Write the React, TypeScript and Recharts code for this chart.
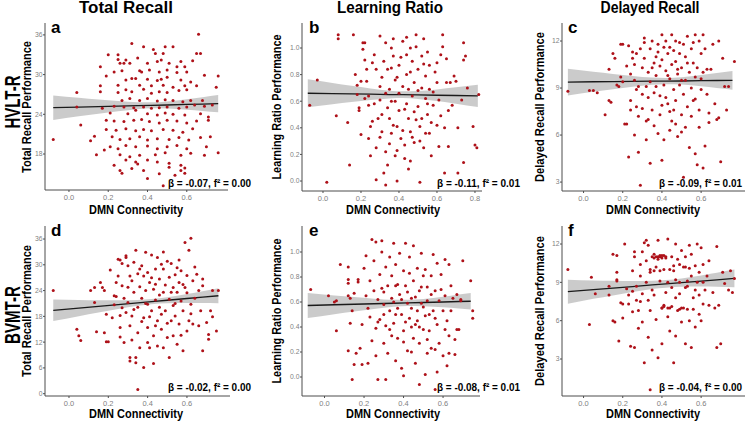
import { Area, ComposedChart, Line, Scatter, XAxis, YAxis } from 'recharts';

type Pair = [number, number];
// x, lower CI, fitted value, upper CI
type FitRow = [number, number, number, number];

// ---- HVLT-R total recall (panel a)
const hvltRecallPoints: Pair[] = [
  [0.66, 36.1], [0.32, 34.7], [0.38, 34.2], [0.43, 33.8], [0.49, 34.2], [0.53, 34.2], [0.25, 33.0], [0.2, 33.0],
  [0.44, 33.2], [0.48, 33.2], [0.65, 33.2], [0.67, 33.2], [0.29, 32.2], [0.25, 32.3], [0.35, 32.5], [0.57, 32.0],
  [0.63, 32.1], [0.16, 31.2], [0.26, 31.7], [0.28, 31.7], [0.31, 31.7], [0.4, 31.7], [0.45, 32.0], [0.47, 32.2],
  [0.51, 31.7], [0.55, 31.2], [0.59, 31.2], [0.23, 30.4], [0.27, 30.6], [0.36, 30.6], [0.37, 30.4], [0.41, 30.7],
  [0.46, 30.4], [0.5, 30.7], [0.55, 30.3], [0.6, 30.4], [0.19, 29.8], [0.69, 29.9], [0.76, 29.8], [0.29, 29.2],
  [0.32, 29.4], [0.34, 29.4], [0.4, 29.3], [0.45, 29.1], [0.47, 29.3], [0.5, 29.6], [0.57, 29.2], [0.62, 28.9],
  [0.16, 28.3], [0.25, 28.4], [0.36, 28.4], [0.42, 28.3], [0.48, 28.4], [0.53, 28.1], [0.59, 28.3], [0.65, 28.3],
  [0.16, 27.4], [0.04, 27.3], [0.25, 27.3], [0.29, 27.7], [0.32, 27.4], [0.38, 27.8], [0.42, 27.2], [0.46, 27.4],
  [0.5, 27.3], [0.56, 27.6], [0.6, 27.7], [0.75, 28.1], [0.27, 26.1], [0.31, 26.4], [0.36, 26.1], [0.4, 26.4],
  [0.45, 26.0], [0.49, 26.2], [0.53, 26.1], [0.58, 25.9], [0.62, 26.1], [0.68, 26.1], [0.04, 25.1], [0.17, 24.9],
  [0.23, 25.2], [0.28, 25.1], [0.33, 25.0], [0.38, 25.1], [0.42, 24.9], [0.46, 25.0], [0.5, 25.1], [0.56, 24.9],
  [0.6, 25.1], [0.64, 25.4], [0.69, 25.2], [0.73, 25.4], [0.21, 24.2], [0.3, 24.1], [0.34, 24.6], [0.4, 24.1],
  [0.45, 23.9], [0.49, 24.2], [0.53, 24.0], [0.59, 23.9], [0.67, 24.1], [0.06, 22.4], [0.19, 23.1], [0.23, 23.0],
  [0.28, 22.9], [0.33, 23.1], [0.37, 23.2], [0.41, 22.9], [0.46, 22.7], [0.5, 23.1], [0.55, 23.0], [0.6, 22.7],
  [0.65, 23.0], [0.71, 23.6], [0.71, 23.1], [0.19, 21.7], [0.24, 21.6], [0.29, 21.8], [0.34, 21.5], [0.38, 21.7],
  [0.42, 21.5], [0.48, 21.7], [0.53, 21.6], [0.58, 21.3], [0.63, 21.8], [-0.08, 20.2], [0.11, 20.0], [0.13, 20.7],
  [0.22, 20.6], [0.26, 20.2], [0.31, 20.3], [0.36, 20.6], [0.4, 20.1], [0.45, 20.3], [0.51, 20.2], [0.56, 20.5],
  [0.61, 20.1], [0.67, 20.5], [0.72, 20.6], [0.21, 19.1], [0.25, 18.8], [0.29, 19.3], [0.34, 19.1], [0.4, 19.2],
  [0.45, 18.8], [0.5, 19.1], [0.55, 19.3], [0.6, 18.8], [0.7, 19.1], [0.14, 17.9], [0.18, 18.6], [0.26, 17.9],
  [0.31, 17.6], [0.36, 17.8], [0.44, 17.9], [0.49, 18.2], [0.57, 17.8], [0.62, 18.1], [0.69, 17.8], [0.76, 18.2],
  [0.23, 16.3], [0.29, 17.1], [0.34, 16.8], [0.35, 16.5], [0.4, 17.1], [0.45, 16.8], [0.51, 16.6], [0.57, 16.3],
  [0.26, 15.5], [0.32, 15.8], [0.38, 15.5], [0.51, 16.0], [0.57, 15.5], [0.59, 15.9], [0.46, 15.0], [0.54, 14.8],
  [0.59, 15.1], [0.27, 15.1], [0.4, 14.3], [0.48, 13.2],
];
const hvltRecallFit: FitRow[] = [
  [-0.08, 23.15, 25.0, 26.85], [0.05, 23.71, 25.1, 26.49], [0.15, 24.1, 25.16, 26.22], [0.25, 24.48, 25.24, 26.0],
  [0.35, 24.78, 25.3, 25.82], [0.42, 24.91, 25.36, 25.81], [0.5, 24.87, 25.41, 25.95], [0.6, 24.7, 25.49, 26.28],
  [0.68, 24.51, 25.54, 26.57], [0.76, 24.3, 25.6, 26.9],
];

// ---- HVLT-R learning ratio (panel b)
const hvltRatioPoints: Pair[] = [
  [-0.07, 0.57], [-0.03, 0.76], [0.02, -0.01], [0.07, 0.49], [0.08, 1.1], [0.08, 1.07], [0.13, 0.44], [0.14, 0.12],
  [0.16, 1.1], [0.17, 0.8], [0.18, 0.72], [0.18, 0.65], [0.19, 0.55], [0.19, 0.53], [0.2, 0.35], [0.21, 1.04],
  [0.22, 1.04], [0.21, 0.99], [0.22, 0.91], [0.23, 0.84], [0.23, 0.75], [0.24, 0.64], [0.24, 0.32], [0.25, 0.19],
  [0.25, 0.41], [0.26, 0.89], [0.27, 0.95], [0.28, 0.25], [0.28, 0.01], [0.3, 1.09], [0.3, 0.71], [0.3, 0.61],
  [0.31, 0.78], [0.31, 0.37], [0.32, 0.06], [0.32, 0.9], [0.33, 1.04], [0.33, 0.22], [0.33, -0.03], [0.34, 0.84],
  [0.34, 0.55], [0.35, 0.47], [0.35, 0.69], [0.36, 1.0], [0.36, 0.36], [0.37, 0.94], [0.38, 0.76], [0.38, 0.6],
  [0.38, 0.19], [0.39, 0.0], [0.39, 0.41], [0.4, 0.87], [0.4, 0.66], [0.41, 0.32], [0.42, 1.05], [0.42, 0.71],
  [0.43, 0.54], [0.43, 0.27], [0.44, 0.95], [0.44, 0.8], [0.45, 0.47], [0.45, 0.09], [0.46, 0.37], [0.46, 1.0],
  [0.47, 0.64], [0.47, 0.9], [0.48, 0.29], [0.48, 0.74], [0.49, 0.46], [0.49, 1.1], [0.49, 1.01], [0.5, 0.84],
  [0.5, 0.56], [0.51, -0.01], [0.51, 0.41], [0.52, 0.7], [0.52, 0.94], [0.53, 0.25], [0.53, 1.07], [0.54, 0.79],
  [0.54, 0.62], [0.54, 0.36], [0.55, 0.5], [0.55, 0.97], [0.56, 0.69], [0.56, 0.87], [0.57, 0.19], [0.58, 0.57],
  [0.59, 0.82], [0.6, 0.42], [0.6, 0.74], [0.61, 0.26], [0.61, 0.61], [0.62, 0.95], [0.63, 1.1], [0.63, 1.01],
  [0.64, 0.4], [0.64, 0.06], [0.65, 0.74], [0.65, 0.92], [0.66, 0.26], [0.67, 0.74], [0.68, 0.57], [0.69, 0.79],
  [0.7, 0.75], [0.71, 0.4], [0.71, 0.06], [0.73, 0.61], [0.74, 0.14], [0.74, 1.04], [0.75, 0.94], [0.74, 0.91],
  [0.76, 0.7], [0.79, 0.41], [0.8, 0.27], [0.81, 0.25], [0.82, 0.65], [0.27, 0.58], [0.29, 0.47], [0.31, 0.5],
  [0.33, 0.66], [0.35, 0.28], [0.36, 0.6], [0.37, 0.42], [0.39, 0.78], [0.4, 0.53], [0.41, 0.93], [0.42, 0.38],
  [0.44, 0.58], [0.45, 0.69], [0.46, 0.82], [0.47, 0.33], [0.48, 0.52], [0.5, 0.68], [0.51, 0.3], [0.52, 0.47],
  [0.53, 0.88], [0.55, 0.58], [0.57, 0.44], [0.58, 0.67], [0.6, 0.89], [0.28, 0.84], [0.26, 0.45], [0.24, 0.57],
  [0.22, 0.62], [0.2, 0.75], [0.36, 0.85], [0.43, 0.17], [0.39, 0.23], [0.46, 0.15], [0.34, 0.12], [0.3, 0.33],
  [0.56, 0.36], [0.62, 0.49], [0.66, 0.53], [0.37, 1.07], [0.44, 1.08],
];
const hvltRatioFit: FitRow[] = [
  [-0.08, 0.555, 0.66, 0.765], [0.05, 0.578, 0.657, 0.737], [0.15, 0.595, 0.655, 0.716], [0.25, 0.61, 0.653, 0.696],
  [0.35, 0.621, 0.65, 0.679], [0.42, 0.624, 0.649, 0.674], [0.5, 0.617, 0.647, 0.677], [0.6, 0.601, 0.645, 0.689],
  [0.7, 0.581, 0.643, 0.705], [0.815, 0.556, 0.64, 0.724],
];

// ---- HVLT-R delayed recall (panel c)
const hvltDelayedPoints: Pair[] = [
  [-0.08, 8.8], [0.03, 8.85], [0.05, 8.85], [0.07, 8.7], [0.11, 7.3], [0.13, 10.2], [0.13, 8.2], [0.14, 8.1],
  [0.15, 11.2], [0.16, 10.9], [0.17, 9.2], [0.18, 9.1], [0.19, 11.8], [0.2, 11.8], [0.19, 9.7], [0.2, 9.4],
  [0.21, 6.7], [0.22, 6.7], [0.23, 4.6], [0.23, 11.7], [0.24, 9.9], [0.24, 8.2], [0.24, 7.6], [0.25, 11.3],
  [0.25, 10.9], [0.26, 6.0], [0.26, 9.5], [0.27, 7.8], [0.27, 11.2], [0.28, 9.1], [0.28, 7.2], [0.28, 4.9],
  [0.29, 2.8], [0.3, 10.3], [0.3, 8.6], [0.3, 7.7], [0.31, 12.2], [0.31, 11.9], [0.31, 10.9], [0.32, 5.7],
  [0.32, 6.9], [0.33, 10.0], [0.33, 8.4], [0.34, 9.4], [0.34, 11.5], [0.34, 4.2], [0.35, 12.0], [0.35, 7.6],
  [0.36, 6.6], [0.36, 10.6], [0.37, 9.1], [0.37, 9.8], [0.38, 6.1], [0.38, 11.8], [0.38, 11.3], [0.39, 8.5],
  [0.39, 7.3], [0.4, 12.4], [0.4, 10.8], [0.4, 4.4], [0.41, 5.7], [0.41, 9.2], [0.42, 10.1], [0.42, 12.0],
  [0.43, 8.0], [0.43, 11.2], [0.44, 6.3], [0.44, 11.6], [0.44, 9.6], [0.45, 6.9], [0.45, 12.4], [0.46, 8.9],
  [0.46, 7.6], [0.47, 10.7], [0.47, 12.0], [0.47, 8.2], [0.48, 9.9], [0.48, 5.9], [0.49, 11.2], [0.49, 9.2],
  [0.49, 11.9], [0.5, 7.3], [0.5, 10.3], [0.51, 3.3], [0.51, 8.6], [0.52, 11.0], [0.52, 9.5], [0.52, 6.5],
  [0.53, 12.3], [0.53, 7.8], [0.54, 10.0], [0.54, 5.2], [0.55, 11.5], [0.55, 9.0], [0.55, 7.2], [0.56, 10.6],
  [0.56, 8.2], [0.57, 12.4], [0.57, 9.7], [0.57, 4.8], [0.58, 4.1], [0.59, 12.0], [0.59, 7.6], [0.59, 6.5],
  [0.6, 8.9], [0.6, 11.2], [0.61, 3.9], [0.61, 12.4], [0.61, 10.0], [0.62, 5.3], [0.63, 10.2], [0.64, 7.4],
  [0.64, 6.8], [0.66, 11.8], [0.67, 8.0], [0.68, 7.0], [0.69, 7.1], [0.69, 12.0], [0.7, 4.3], [0.71, 10.9],
  [0.72, 9.1], [0.74, 9.1], [0.73, 7.6], [0.77, 10.7], [0.26, 10.5], [0.29, 11.5], [0.32, 9.1], [0.35, 10.3],
  [0.36, 8.7], [0.37, 11.0], [0.39, 10.4], [0.41, 11.6], [0.42, 8.4], [0.43, 9.8], [0.45, 10.5], [0.46, 11.4],
  [0.48, 10.2], [0.5, 9.5], [0.51, 11.8], [0.53, 10.6], [0.56, 11.9], [0.58, 10.3], [0.6, 9.6], [0.62, 11.5],
  [0.63, 8.6], [0.65, 10.2], [0.44, 7.5], [0.47, 6.7], [0.4, 7.9], [0.33, 7.0], [0.5, 6.2], [0.57, 8.3],
  [0.27, 8.9], [0.22, 10.4],
];
const hvltDelayedFit: FitRow[] = [
  [-0.08, 8.53, 9.38, 10.23], [0.05, 8.76, 9.4, 10.04], [0.15, 8.92, 9.41, 9.9], [0.25, 9.08, 9.42, 9.77],
  [0.35, 9.21, 9.44, 9.67], [0.42, 9.24, 9.44, 9.64], [0.5, 9.22, 9.45, 9.69], [0.6, 9.11, 9.47, 9.83],
  [0.68, 9.0, 9.48, 9.96], [0.76, 8.89, 9.49, 10.09],
];

// ---- BVMT-R total recall (panel d)
const bvmtRecallPoints: Pair[] = [
  [-0.08, 24.0], [0.04, 15.0], [0.05, 13.5], [0.06, 12.4], [0.11, 24.0], [0.13, 24.7], [0.13, 21.2], [0.14, 14.4],
  [0.16, 25.9], [0.17, 24.7], [0.18, 24.0], [0.18, 14.2], [0.19, 12.1], [0.2, 12.1], [0.19, 18.5], [0.21, 28.8],
  [0.22, 17.7], [0.23, 20.7], [0.23, 22.8], [0.24, 22.6], [0.24, 25.9], [0.25, 27.4], [0.25, 31.3], [0.26, 31.1],
  [0.26, 15.4], [0.26, 13.2], [0.27, 25.1], [0.27, 30.3], [0.28, 22.2], [0.28, 11.9], [0.29, 18.9], [0.29, 31.7],
  [0.29, 32.1], [0.3, 21.2], [0.3, 29.8], [0.31, 8.4], [0.31, 7.6], [0.31, 15.8], [0.32, 26.3], [0.32, 18.1],
  [0.33, 23.6], [0.33, 30.6], [0.34, 8.4], [0.34, 7.2], [0.34, 33.4], [0.35, 20.1], [0.35, 1.0], [0.35, 14.2],
  [0.36, 24.9], [0.36, 29.0], [0.36, 10.7], [0.37, 22.2], [0.38, 27.4], [0.38, 6.1], [0.38, 17.7], [0.39, 24.0],
  [0.39, 32.9], [0.4, 15.4], [0.4, 28.2], [0.4, 20.8], [0.41, 25.9], [0.41, 10.7], [0.42, 32.3], [0.42, 19.3],
  [0.43, 7.0], [0.43, 24.3], [0.43, 13.5], [0.44, 29.0], [0.44, 21.8], [0.45, 17.0], [0.45, 31.7], [0.45, 11.1],
  [0.46, 26.7], [0.46, 20.1], [0.47, 30.1], [0.47, 15.0], [0.48, 23.6], [0.48, 10.7], [0.48, 29.0], [0.49, 25.3],
  [0.49, 19.3], [0.5, 13.1], [0.5, 30.8], [0.51, 22.0], [0.51, 27.1], [0.51, 8.4], [0.52, 17.0], [0.52, 30.3],
  [0.53, 20.5], [0.53, 24.7], [0.53, 13.5], [0.54, 27.7], [0.54, 18.1], [0.55, 23.6], [0.55, 11.5], [0.56, 25.9],
  [0.56, 16.2], [0.56, 31.1], [0.57, 21.6], [0.57, 28.6], [0.58, 10.0], [0.58, 19.3], [0.59, 24.7], [0.59, 35.2],
  [0.6, 14.6], [0.6, 23.5], [0.6, 27.5], [0.61, 17.0], [0.61, 33.4], [0.62, 20.8], [0.62, 36.2], [0.63, 26.3],
  [0.63, 16.2], [0.64, 22.2], [0.65, 27.8], [0.66, 15.8], [0.66, 24.0], [0.67, 19.3], [0.68, 25.1], [0.68, 26.7],
  [0.7, 16.6], [0.71, 12.7], [0.71, 13.8], [0.72, 19.3], [0.73, 24.0], [0.68, 10.0], [0.76, 24.0], [0.73, 17.9],
  [0.75, 14.6], [0.27, 20.0], [0.3, 24.8], [0.32, 12.5], [0.33, 19.6], [0.35, 27.9], [0.37, 16.8], [0.39, 21.0],
  [0.41, 17.9], [0.42, 27.0], [0.44, 15.8], [0.46, 23.0], [0.47, 18.5], [0.5, 16.4], [0.52, 23.6], [0.54, 21.0],
  [0.57, 13.6], [0.58, 25.4], [0.62, 18.6], [0.64, 29.5], [0.44, 25.5], [0.37, 29.8], [0.31, 27.4], [0.26, 18.2],
  [0.48, 33.0], [0.4, 11.9], [0.55, 29.3],
];
const bvmtRecallFit: FitRow[] = [
  [-0.08, 16.9, 19.4, 21.9], [0.05, 18.04, 19.93, 21.82], [0.15, 18.89, 20.33, 21.77], [0.25, 19.72, 20.74, 21.76],
  [0.35, 20.45, 21.14, 21.83], [0.42, 20.83, 21.43, 22.03], [0.5, 21.05, 21.75, 22.45], [0.6, 21.11, 22.16, 23.21],
  [0.68, 21.1, 22.48, 23.86], [0.76, 21.05, 22.8, 24.56],
];

// ---- BVMT-R learning ratio (panel e)
const bvmtRatioPoints: Pair[] = [
  [-0.07, 0.7], [0.02, 0.65], [0.05, 0.6], [0.06, 0.61], [0.06, 0.37], [0.08, 0.9], [0.12, 0.88], [0.12, 0.78],
  [0.12, 0.75], [0.12, 0.65], [0.13, 0.63], [0.13, 0.43], [0.12, 0.21], [0.14, -0.02], [0.14, 0.53], [0.15, 0.67],
  [0.15, 0.1], [0.16, 0.19], [0.17, 0.78], [0.17, 0.76], [0.18, 0.23], [0.19, 0.1], [0.19, 0.42], [0.2, 0.87],
  [0.21, 0.65], [0.21, 0.97], [0.22, 0.55], [0.22, 0.11], [0.23, 0.77], [0.23, 0.48], [0.24, 0.29], [0.24, 1.1],
  [0.25, 0.69], [0.25, 0.93], [0.26, 0.39], [0.26, 1.08], [0.26, 0.17], [0.27, -0.02], [0.27, 0.62], [0.28, 0.82],
  [0.28, 0.46], [0.29, 1.0], [0.29, 0.71], [0.29, 1.09], [0.3, 0.27], [0.3, 0.58], [0.31, 0.88], [0.31, 0.41],
  [0.31, -0.02], [0.32, 0.73], [0.32, 0.19], [0.33, 0.96], [0.33, 0.53], [0.34, 0.81], [0.34, 0.33], [0.34, 0.63],
  [0.35, 1.07], [0.35, 0.43], [0.36, 0.9], [0.36, 0.13], [0.36, 0.73], [0.37, 0.55], [0.37, 0.31], [0.38, 0.99],
  [0.38, 0.66], [0.39, 0.5], [0.39, 0.07], [0.4, 0.85], [0.4, 0.37], [0.4, 0.01], [0.41, 1.07], [0.41, 0.73],
  [0.42, 0.59], [0.42, 0.21], [0.43, 0.47], [0.43, 0.83], [0.43, 0.96], [0.44, 0.63], [0.44, 0.55], [0.45, 0.31],
  [0.45, 1.05], [0.45, 0.77], [0.46, 0.42], [0.46, 0.11], [0.47, 0.87], [0.47, 0.53], [0.48, 0.69], [0.48, -0.06],
  [0.48, 0.27], [0.49, 0.99], [0.49, 0.59], [0.5, 0.38], [0.5, 0.81], [0.51, 0.02], [0.51, 0.49], [0.52, 0.19],
  [0.52, 0.72], [0.52, 0.61], [0.53, 0.37], [0.54, 0.23], [0.54, 0.81], [0.55, 0.53], [0.55, 0.98], [0.56, 0.22],
  [0.56, 0.69], [0.57, 0.04], [0.57, 0.42], [0.57, 0.91], [0.58, 0.61], [0.58, 0.27], [0.59, 0.82], [0.6, 0.17],
  [0.6, 0.53], [0.61, 0.94], [0.61, 0.65], [0.62, 0.45], [0.62, 0.09], [0.63, 0.33], [0.63, 0.19], [0.63, 0.9],
  [0.64, 0.53], [0.65, 0.63], [0.66, 0.3], [0.66, 0.18], [0.67, 0.38], [0.67, 0.66], [0.68, 0.38], [0.69, 0.62],
  [0.7, 0.93], [0.69, 0.61], [0.74, 0.77], [0.75, 0.53], [0.75, 0.47], [0.56, -0.1], [0.27, 0.44], [0.3, 0.68],
  [0.33, 0.38], [0.35, 0.6], [0.37, 0.74], [0.39, 0.62], [0.41, 0.44], [0.42, 0.68], [0.44, 0.4], [0.46, 0.64],
  [0.47, 0.45], [0.49, 0.72], [0.5, 0.56], [0.51, 0.86], [0.53, 0.5], [0.54, 0.66], [0.56, 0.47], [0.59, 0.7],
  [0.61, 0.38], [0.64, 0.73], [0.36, 0.5], [0.4, 0.28], [0.44, 0.2], [0.48, 0.4], [0.52, 0.3], [0.3, 0.5],
];
const bvmtRatioFit: FitRow[] = [
  [-0.085, 0.472, 0.572, 0.672], [0.05, 0.503, 0.578, 0.653], [0.15, 0.525, 0.582, 0.64], [0.25, 0.545, 0.586, 0.627],
  [0.35, 0.562, 0.59, 0.618], [0.42, 0.568, 0.593, 0.618], [0.5, 0.567, 0.596, 0.625], [0.6, 0.558, 0.6, 0.642],
  [0.68, 0.548, 0.604, 0.66], [0.74, 0.54, 0.606, 0.672],
];

// ---- BVMT-R delayed recall (panel f)
const bvmtDelayedPoints: Pair[] = [
  [-0.08, 10.0], [0.03, 5.7], [0.04, 9.4], [0.06, 8.1], [0.13, 8.7], [0.13, 8.0], [0.15, 6.0], [0.16, 5.9],
  [0.15, 11.2], [0.17, 11.1], [0.17, 9.8], [0.17, 9.2], [0.17, 9.1], [0.18, 4.4], [0.19, 7.4], [0.2, 7.3],
  [0.2, 6.2], [0.21, 12.0], [0.22, 8.5], [0.23, 7.3], [0.23, 8.0], [0.24, 4.0], [0.25, 6.7], [0.25, 9.9],
  [0.26, 11.4], [0.26, 3.9], [0.26, 11.0], [0.27, 7.6], [0.27, 8.7], [0.28, 5.4], [0.28, 6.8], [0.29, 10.4],
  [0.29, 9.5], [0.3, 8.1], [0.3, 11.4], [0.3, 5.9], [0.31, 12.1], [0.31, 2.7], [0.32, 12.3], [0.32, 9.0],
  [0.32, 10.7], [0.33, 7.6], [0.33, 4.7], [0.34, 9.8], [0.34, 6.8], [0.35, 3.7], [0.35, 11.0], [0.35, 8.4],
  [0.36, 11.2], [0.36, 8.0], [0.37, 6.1], [0.37, 10.2], [0.38, 12.3], [0.38, 11.0], [0.38, 3.1], [0.39, 11.1],
  [0.39, 9.1], [0.4, 7.0], [0.4, 11.1], [0.4, 4.2], [0.41, 10.0], [0.41, 7.2], [0.42, 11.0], [0.42, 8.2],
  [0.43, 12.4], [0.43, 6.3], [0.44, 10.0], [0.44, 5.2], [0.44, 7.0], [0.45, 11.0], [0.45, 8.6], [0.46, 2.7],
  [0.46, 9.9], [0.47, 7.8], [0.47, 4.8], [0.47, 12.0], [0.48, 10.8], [0.48, 6.8], [0.49, 9.0], [0.49, 10.4],
  [0.49, 8.1], [0.5, 5.9], [0.5, 11.5], [0.51, 7.0], [0.51, 10.2], [0.52, 8.6], [0.52, 4.2], [0.52, 11.0],
  [0.53, 6.9], [0.53, 8.7], [0.54, 11.9], [0.54, 6.0], [0.55, 9.5], [0.55, 3.9], [0.55, 11.2], [0.56, 7.8],
  [0.56, 6.9], [0.57, 10.3], [0.57, 8.4], [0.57, 5.5], [0.58, 12.0], [0.59, 6.5], [0.59, 9.8], [0.59, 8.0],
  [0.6, 6.0], [0.6, 11.7], [0.61, 9.0], [0.61, 7.3], [0.61, 10.4], [0.62, 8.4], [0.63, 9.5], [0.64, 7.2],
  [0.64, 10.7], [0.66, 8.2], [0.67, 7.0], [0.68, 11.8], [0.68, 3.9], [0.69, 7.2], [0.7, 4.2], [0.71, 9.8],
  [0.72, 8.9], [0.74, 8.4], [0.76, 8.2], [0.75, 9.9], [0.77, 9.3], [0.34, 0.6], [0.36, 10.9], [0.37, 11.0],
  [0.38, 10.8], [0.39, 11.0], [0.4, 10.9], [0.41, 11.1], [0.42, 10.9], [0.34, 10.0], [0.36, 9.9], [0.39, 9.9],
  [0.4, 7.0], [0.41, 7.1], [0.43, 7.0], [0.45, 7.1], [0.49, 6.9], [0.5, 7.0], [0.52, 10.2], [0.54, 10.1],
  [0.46, 10.3], [0.43, 9.0], [0.47, 9.2], [0.53, 9.1], [0.58, 9.0], [0.33, 11.9], [0.29, 7.5], [0.25, 8.3],
];
const bvmtDelayedFit: FitRow[] = [
  [-0.08, 7.33, 8.27, 9.21], [0.05, 7.71, 8.43, 9.15], [0.15, 7.98, 8.55, 9.12], [0.25, 8.24, 8.67, 9.1],
  [0.35, 8.48, 8.8, 9.13], [0.42, 8.58, 8.88, 9.18], [0.5, 8.65, 8.98, 9.31], [0.6, 8.67, 9.1, 9.54],
  [0.68, 8.65, 9.2, 9.75], [0.77, 8.62, 9.31, 10.0],
];

// ---- ticks and labels
const connTicks = [0, 0.2, 0.4, 0.6];
const connTicksWide = [0, 0.2, 0.4, 0.6, 0.8];
const hvltRecallTicks = [18, 24, 30, 36];
const bvmtRecallTicks = [0, 6, 12, 18, 24, 30, 36];
const ratioTicks = [0, 0.2, 0.4, 0.6, 0.8, 1.0];
const delayedTicks = [3, 6, 9, 12];

const columnTitles = ['Total Recall', 'Learning Ratio', 'Delayed Recall'];
const rowTitles = ['HVLT-R', 'BVMT-R'];
const yTitles = ['Total Recall Performance', 'Learning Ratio Performance', 'Delayed Recall Performance'];
const xTitle = 'DMN Connectivity';
const panelLetters = ['a', 'b', 'c', 'd', 'e', 'f'];
const statLabels = [
  'β = -0.07, f² = 0.00',
  'β = -0.11, f² = 0.01',
  'β = -0.09, f² = 0.01',
  'β = -0.02, f² = 0.00',
  'β = -0.08, f² = 0.01',
  'β = -0.04, f² = 0.00',
];

const FONT = '"Liberation Sans", Arial, Helvetica, sans-serif';
const POINT_COLOR = '#ae1119';
const AXIS_COLOR = '#4d4d4d';
const TICK_COLOR = '#7f7f7f';
const Y_AXIS_W = 13;
const X_AXIS_H = 14;

interface PanelSpec {
  points: Pair[];
  fit: FitRow[];
  xTicks: number[];
  yTicks: number[];
  yDecimals: number;
  left: number;
  right: number;
  top: number;
  bottom: number;
  xDomain: [number, number];
  yDomain: [number, number];
}

const panels: PanelSpec[] = [
  { points: hvltRecallPoints, fit: hvltRecallFit, xTicks: connTicks, yTicks: hvltRecallTicks, yDecimals: 0,
    left: 45, right: 228, top: 23, bottom: 190, xDomain: [-0.122, 0.81], yDomain: [12.56, 37.8] },
  { points: hvltRatioPoints, fit: hvltRatioFit, xTicks: connTicksWide, yTicks: ratioTicks, yDecimals: 1,
    left: 302, right: 482, top: 23, bottom: 191, xDomain: [-0.1105, 0.837], yDomain: [-0.075, 1.188] },
  { points: hvltDelayedPoints, fit: hvltDelayedFit, xTicks: connTicks, yTicks: delayedTicks, yDecimals: 0,
    left: 562, right: 745, top: 23, bottom: 191, xDomain: [-0.11, 0.824], yDomain: [2.43, 13.15] },
  { points: bvmtRecallPoints, fit: bvmtRecallFit, xTicks: connTicks, yTicks: bvmtRecallTicks, yDecimals: 0,
    left: 45, right: 230, top: 226, bottom: 396, xDomain: [-0.122, 0.819], yDomain: [-0.535, 39.03] },
  { points: bvmtRatioPoints, fit: bvmtRatioFit, xTicks: connTicks, yTicks: ratioTicks, yDecimals: 1,
    left: 302, right: 480, top: 226, bottom: 396, xDomain: [-0.114, 0.787], yDomain: [-0.152, 1.208] },
  { points: bvmtDelayedPoints, fit: bvmtDelayedFit, xTicks: connTicks, yTicks: delayedTicks, yDecimals: 0,
    left: 562, right: 745, top: 226, bottom: 396, xDomain: [-0.11, 0.824], yDomain: [0.105, 13.41] },
];

const renderDot = (props: { cx?: number; cy?: number }) => {
  if (props.cx == null || props.cy == null) return <g />;
  return <circle cx={props.cx} cy={props.cy} r={1.5} fill={POINT_COLOR} />;
};

function ScatterPanel({ spec }: { spec: PanelSpec }) {
  const points = spec.points.map(([x, y]) => ({ x, y }));
  const band = spec.fit.map(([x, lo, fit, hi]) => ({ x, band: [lo, hi], fit }));
  const width = spec.right - spec.left + Y_AXIS_W;
  const height = spec.bottom - spec.top + X_AXIS_H;
  const xTickStyle = { fontSize: 7.5, fill: TICK_COLOR, fontFamily: FONT };
  const yTickStyle = { fontSize: 6.8, fill: TICK_COLOR, fontFamily: FONT };

  return (
    <div style={{ position: 'absolute', left: spec.left - Y_AXIS_W, top: spec.top }}>
      <ComposedChart width={width} height={height} margin={{ top: 0, right: 0, bottom: 0, left: 0 }}>
        <XAxis
          type="number"
          dataKey="x"
          domain={spec.xDomain}
          ticks={spec.xTicks}
          allowDataOverflow
          interval={0}
          height={X_AXIS_H}
          tick={xTickStyle}
          tickSize={2}
          tickMargin={3}
          stroke={AXIS_COLOR}
          tickFormatter={(v: number) => v.toFixed(1)}
        />
        <YAxis
          type="number"
          domain={spec.yDomain}
          ticks={spec.yTicks}
          allowDataOverflow
          interval={0}
          width={Y_AXIS_W}
          tick={yTickStyle}
          tickSize={2}
          tickMargin={0.5}
          stroke={AXIS_COLOR}
          tickFormatter={(v: number) => v.toFixed(spec.yDecimals)}
        />
        <Scatter data={points} dataKey="y" shape={renderDot} isAnimationActive={false} />
        <Area
          data={band}
          dataKey="band"
          type="monotone"
          stroke="none"
          fill="#8c8c8c"
          fillOpacity={0.45}
          dot={false}
          activeDot={false}
          isAnimationActive={false}
        />
        <Line
          data={band}
          dataKey="fit"
          type="linear"
          stroke="#1a1a1a"
          strokeWidth={1.3}
          dot={false}
          activeDot={false}
          isAnimationActive={false}
        />
      </ComposedChart>
    </div>
  );
}

// text placement (baselines) for the overlay
const titleX = [126, 390, 650];
const titleLen = [94, 106, 99];
const rowTitleY = [102, 315];
const rowTitleLen = [53, 58];
const yTitleX = [31, 281, 544];
const yTitleLen = [132, 145, 150];
const rowMidY = [107, 311];
const xTitleX = [136, 393, 653];
const xTitleBase = [214, 418];
const letterX = [51, 309, 568];
const letterBase = [33, 236];
const statX = [168, 437, 659];
const statBase = [187, 391];

export default function App() {
  return (
    <div
      style={{
        position: 'absolute',
        left: 0,
        top: 0,
        width: 746,
        height: 422,
        background: '#fff',
        fontFamily: FONT,
        overflow: 'hidden',
      }}
    >
      {panels.map((p, i) => (
        <ScatterPanel key={i} spec={p} />
      ))}
      <svg
        width={746}
        height={422}
        style={{ position: 'absolute', left: 0, top: 0, pointerEvents: 'none' }}
        fontFamily={FONT}
        fontWeight="bold"
        fill="#000"
      >
        {columnTitles.map((t, i) => (
          <text key={t} x={titleX[i]} y={13} textAnchor="middle" fontSize={16} textLength={titleLen[i]} lengthAdjust="spacingAndGlyphs">
            {t}
          </text>
        ))}
        {rowTitles.map((t, r) => (
          <text
            key={t}
            transform={`translate(20,${rowTitleY[r]}) rotate(-90)`}
            textAnchor="middle"
            fontSize={22}
            textLength={rowTitleLen[r]}
            lengthAdjust="spacingAndGlyphs"
          >
            {t}
          </text>
        ))}
        {[0, 1].map((r) =>
          yTitles.map((t, c) => (
            <text
              key={`${r}-${t}`}
              transform={`translate(${yTitleX[c]},${rowMidY[r]}) rotate(-90)`}
              textAnchor="middle"
              fontSize={13.5}
              textLength={yTitleLen[c]}
              lengthAdjust="spacingAndGlyphs"
            >
              {t}
            </text>
          )),
        )}
        {[0, 1].map((r) =>
          xTitleX.map((x, c) => (
            <text key={`x-${r}-${c}`} x={x} y={xTitleBase[r]} textAnchor="middle" fontSize={12} textLength={94} lengthAdjust="spacingAndGlyphs">
              {xTitle}
            </text>
          )),
        )}
        {panelLetters.map((l, i) => (
          <text key={l} x={letterX[i % 3]} y={letterBase[Math.floor(i / 3)]} fontSize={17}>
            {l}
          </text>
        ))}
        {statLabels.map((s, i) => (
          <text key={i} x={statX[i % 3]} y={statBase[Math.floor(i / 3)]} fontSize={10.5} textLength={83} lengthAdjust="spacingAndGlyphs">
            {s}
          </text>
        ))}
      </svg>
    </div>
  );
}
